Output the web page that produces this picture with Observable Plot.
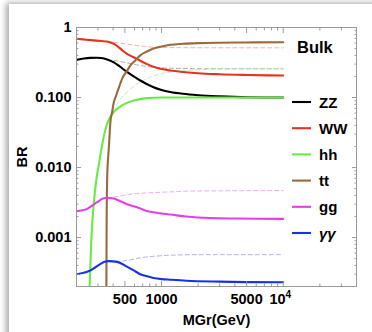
<!DOCTYPE html>
<html><head><meta charset="utf-8">
<script src="https://cdn.jsdelivr.net/npm/d3@7"></script>
<script src="https://cdn.jsdelivr.net/npm/@observablehq/plot@0.6"></script>
<style>
body{margin:0;background:#fff;}
#wrap{position:relative;width:372px;height:332px;overflow:hidden;background:#fff;font-family:"Liberation Sans",Arial,sans-serif;}
#panel{position:absolute;left:9px;top:4px;width:380px;height:340px;background:#fff;box-shadow:-3px -1px 6px rgba(0,0,0,0.35);}
#chart{position:absolute;left:0;top:0;}
#legend{position:absolute;left:0;top:0;pointer-events:none;}
</style></head>
<body><div id="wrap"><div id="panel"></div><div id="chart"></div><svg id="legend" width="372" height="332"></svg></div>
<script>
// ---- data ----
const massZZ = [200,230,260,290,320,357,405,450,520,590,668,760,859,1000,1180,1500,2000,3000,5000,10000];
const brZZ   = [0.345,0.36,0.368,0.37,0.366,0.35,0.318,0.28,0.232,0.2,0.175,0.155,0.14,0.128,0.12,0.113,0.108,0.104,0.101,0.1];
const massWW = [200,240,277,320,357,380,405,440,474,520,590,668,760,859,1000,1180,1500,2000,3000,5000,10000];
const brWW   = [0.69,0.67,0.655,0.64,0.63,0.61,0.585,0.53,0.475,0.42,0.376,0.335,0.30,0.275,0.255,0.243,0.232,0.222,0.215,0.21,0.206];
const massHH = [252,257,263,270,277,286,295,305,325,340,357,380,405,450,490,590,760,1000,2000,10000];
const brHH   = [0.00008,0.00022,0.0007,0.0017,0.003,0.0052,0.0078,0.011,0.021,0.031,0.042,0.053,0.062,0.073,0.08,0.091,0.098,0.1,0.1,0.1];
const massTT = [350,352,354,358,363,368,380,393,405,418,440,474,520,555,600,668,760,859,1000,1180,1500,2000,3000,5000,10000];
const brTT   = [0.00005,0.0002,0.002,0.008,0.013,0.018,0.045,0.063,0.085,0.1,0.13,0.185,0.24,0.287,0.33,0.4,0.455,0.5,0.535,0.566,0.585,0.598,0.607,0.612,0.615];
const massGG = [200,244,295,330,357,405,460,520,590,668,760,859,1000,1180,1600,2500,4000,10000];
const brGG   = [0.00238,0.00257,0.0032,0.0036,0.0037,0.0036,0.0033,0.003,0.0028,0.0026,0.0024,0.0023,0.0022,0.00213,0.002,0.0019,0.00187,0.00185];
const massAA = [200,261,315,340,368,431,520,590,668,760,859,1000,1180,1600,3000,10000];
const brAA   = [0.0003,0.00034,0.00042,0.00045,0.00046,0.00045,0.000385,0.00034,0.0003,0.00028,0.000265,0.000255,0.00025,0.000242,0.000235,0.00023];

// dashed companions
const massWWd = [357,400,450,520,600,700,850,1000,1500,2000,5000,10000];
const brWWd   = [0.63,0.615,0.6,0.58,0.56,0.54,0.525,0.52,0.515,0.514,0.513,0.513];
const massZZd = [357,420,489,580,668,800,1000,1500,2000,5000,10000];
const brZZd   = [0.35,0.335,0.32,0.3,0.287,0.275,0.265,0.26,0.258,0.257,0.257];
const massHHd = [357,380,405,459,520,628,809,1000,1180,1500,2000,4000,10000];
const brHHd   = [0.042,0.05,0.064,0.095,0.119,0.155,0.195,0.22,0.232,0.243,0.25,0.256,0.257];
const massGGd = [357,450,520,700,900,1200,1600,3000,10000];
const brGGd   = [0.0037,0.0039,0.0041,0.0043,0.0044,0.0045,0.0046,0.00465,0.0047];
const massAAd = [368,450,520,700,859,1180,2000,10000];
const brAAd   = [0.00046,0.00046,0.00047,0.00052,0.00054,0.00056,0.00057,0.00057];

const names = ["ZZ","WW","hh","tt","gg","γγ"];
const colors = ["#000000","#e6321f","#66ec44","#9a6a3c","#e43ee6","#1432e6"];
const dashColors = ["#aaaaaa","#f2b0aa","#b8f0a8","#f0aaf0","#aab0f0"];

const xMajor = [500,1000,5000,10000];
const xMajorLabels = ["500","1000","5000","10^4"];
const xMinor = [200,300,400,600,700,800,900,2000,3000,4000,6000,7000,8000,9000,20000,30000];
const yMajor = [1,0.1,0.01,0.001];
const yMajorLabels = ["1","0.100","0.010","0.001"];
const yMinor = [0.0002,0.0003,0.0004,0.0005,0.0006,0.0007,0.0008,0.0009,
  0.002,0.003,0.004,0.005,0.006,0.007,0.008,0.009,
  0.02,0.03,0.04,0.05,0.06,0.07,0.08,0.09,
  0.2,0.3,0.4,0.5,0.6,0.7,0.8,0.9];

const rows = (ms, vs) => ms.map((m,i)=>({m, v: vs[i]}));
const solid = [[massZZ,brZZ],[massWW,brWW],[massHH,brHH],[massTT,brTT],[massGG,brGG],[massAA,brAA]];
const dashed = [[massZZd,brZZd],[massWWd,brWWd],[massHHd,brHHd],[massGGd,brGGd],[massAAd,brAAd]];

const tickGray = "#9a9a9a";
const marks = [];
dashed.forEach(([ms,vs],i)=> marks.push(Plot.line(rows(ms,vs), {x:"m", y:"v", stroke: dashColors[i], strokeWidth: 1, strokeDasharray: "4,3", curve: "monotone-x", clip: true})));
solid.forEach(([ms,vs],i)=> marks.push(Plot.line(rows(ms,vs), {x:"m", y:"v", stroke: colors[i], strokeWidth: 2.1, curve: "monotone-x", clip: true})));

const empty = () => "";
for (const anchor of ["bottom","top"]) {
  marks.push(Plot.axisX({anchor, ticks: xMinor, tickSize: -2.5, tickFormat: empty, stroke: tickGray, label: null}));
  marks.push(Plot.axisX({anchor, ticks: xMajor, tickSize: -5, tickFormat: empty, stroke: tickGray, label: null}));
}
for (const anchor of ["left","right"]) {
  marks.push(Plot.axisY({anchor, ticks: yMinor, tickSize: -2.5, tickFormat: empty, stroke: tickGray, label: null}));
  marks.push(Plot.axisY({anchor, ticks: yMajor, tickSize: -5, tickFormat: empty, stroke: tickGray, label: null}));
}
// x tick labels
marks.push(Plot.text(xMajor, {x: d => d, text: (d,i) => xMajorLabels[i], frameAnchor: "bottom", lineAnchor: "top", dy: 7, fontSize: 14.5, fontWeight: "bold"}));
marks.push(Plot.axisX({anchor:"bottom", ticks: [], tickSize: 0,
  label: "MGr(GeV)", labelAnchor: "center", labelArrow: "none", labelOffset: 38, fontSize: 14.5}));
marks.push(Plot.axisY({anchor:"left", ticks: yMajor, tickSize: 0, tickPadding: 5, tickFormat: d => yMajorLabels[yMajor.indexOf(d)],
  label: "BR", labelAnchor: "center", labelArrow: "none", labelOffset: 60, fontSize: 14.5}));
marks.push(Plot.frame({stroke: tickGray}));

const plot = Plot.plot({
  width: 372, height: 332,
  marginLeft: 76, marginRight: 16, marginTop: 27, marginBottom: 46,
  x: {type: "log", domain: [200, 40000]},
  y: {type: "log", domain: [0.0002, 1]},
  style: {fontFamily: '"Liberation Sans", Arial, sans-serif', fontSize: "14.5px", fontWeight: "bold", background: "transparent", color: "#000", overflow: "visible"},
  marks
});
document.getElementById("chart").appendChild(plot);

// superscript for 10^4
plot.querySelectorAll("text").forEach(t => {
  if (t.textContent === "10^4") {
    t.textContent = "10";
    const ts = document.createElementNS("http://www.w3.org/2000/svg","tspan");
    ts.setAttribute("dy","-6"); ts.setAttribute("font-size","10");
    ts.textContent = "4";
    t.appendChild(ts);
    t.setAttribute("dx", "-3");
  }
});

// legend
const lg = d3.select("#legend");
lg.append("text").attr("x",297).attr("y",53).attr("font-size",16.5).attr("font-weight","bold").attr("font-family",'"Liberation Sans", Arial, sans-serif').text("Bulk");
names.forEach((n,i)=>{
  const y = 102 + i*26.2;
  lg.append("line").attr("x1",292).attr("x2",311).attr("y1",y).attr("y2",y).attr("stroke",colors[i]).attr("stroke-width",2.1);
  lg.append("text").attr("x",319).attr("y",y+5.5).attr("font-size",15).attr("font-weight","bold")
    .attr("font-style", n==="γγ" ? "italic" : "normal")
    .attr("font-family",'"Liberation Sans", Arial, sans-serif').text(n);
});
</script>
</body></html>
